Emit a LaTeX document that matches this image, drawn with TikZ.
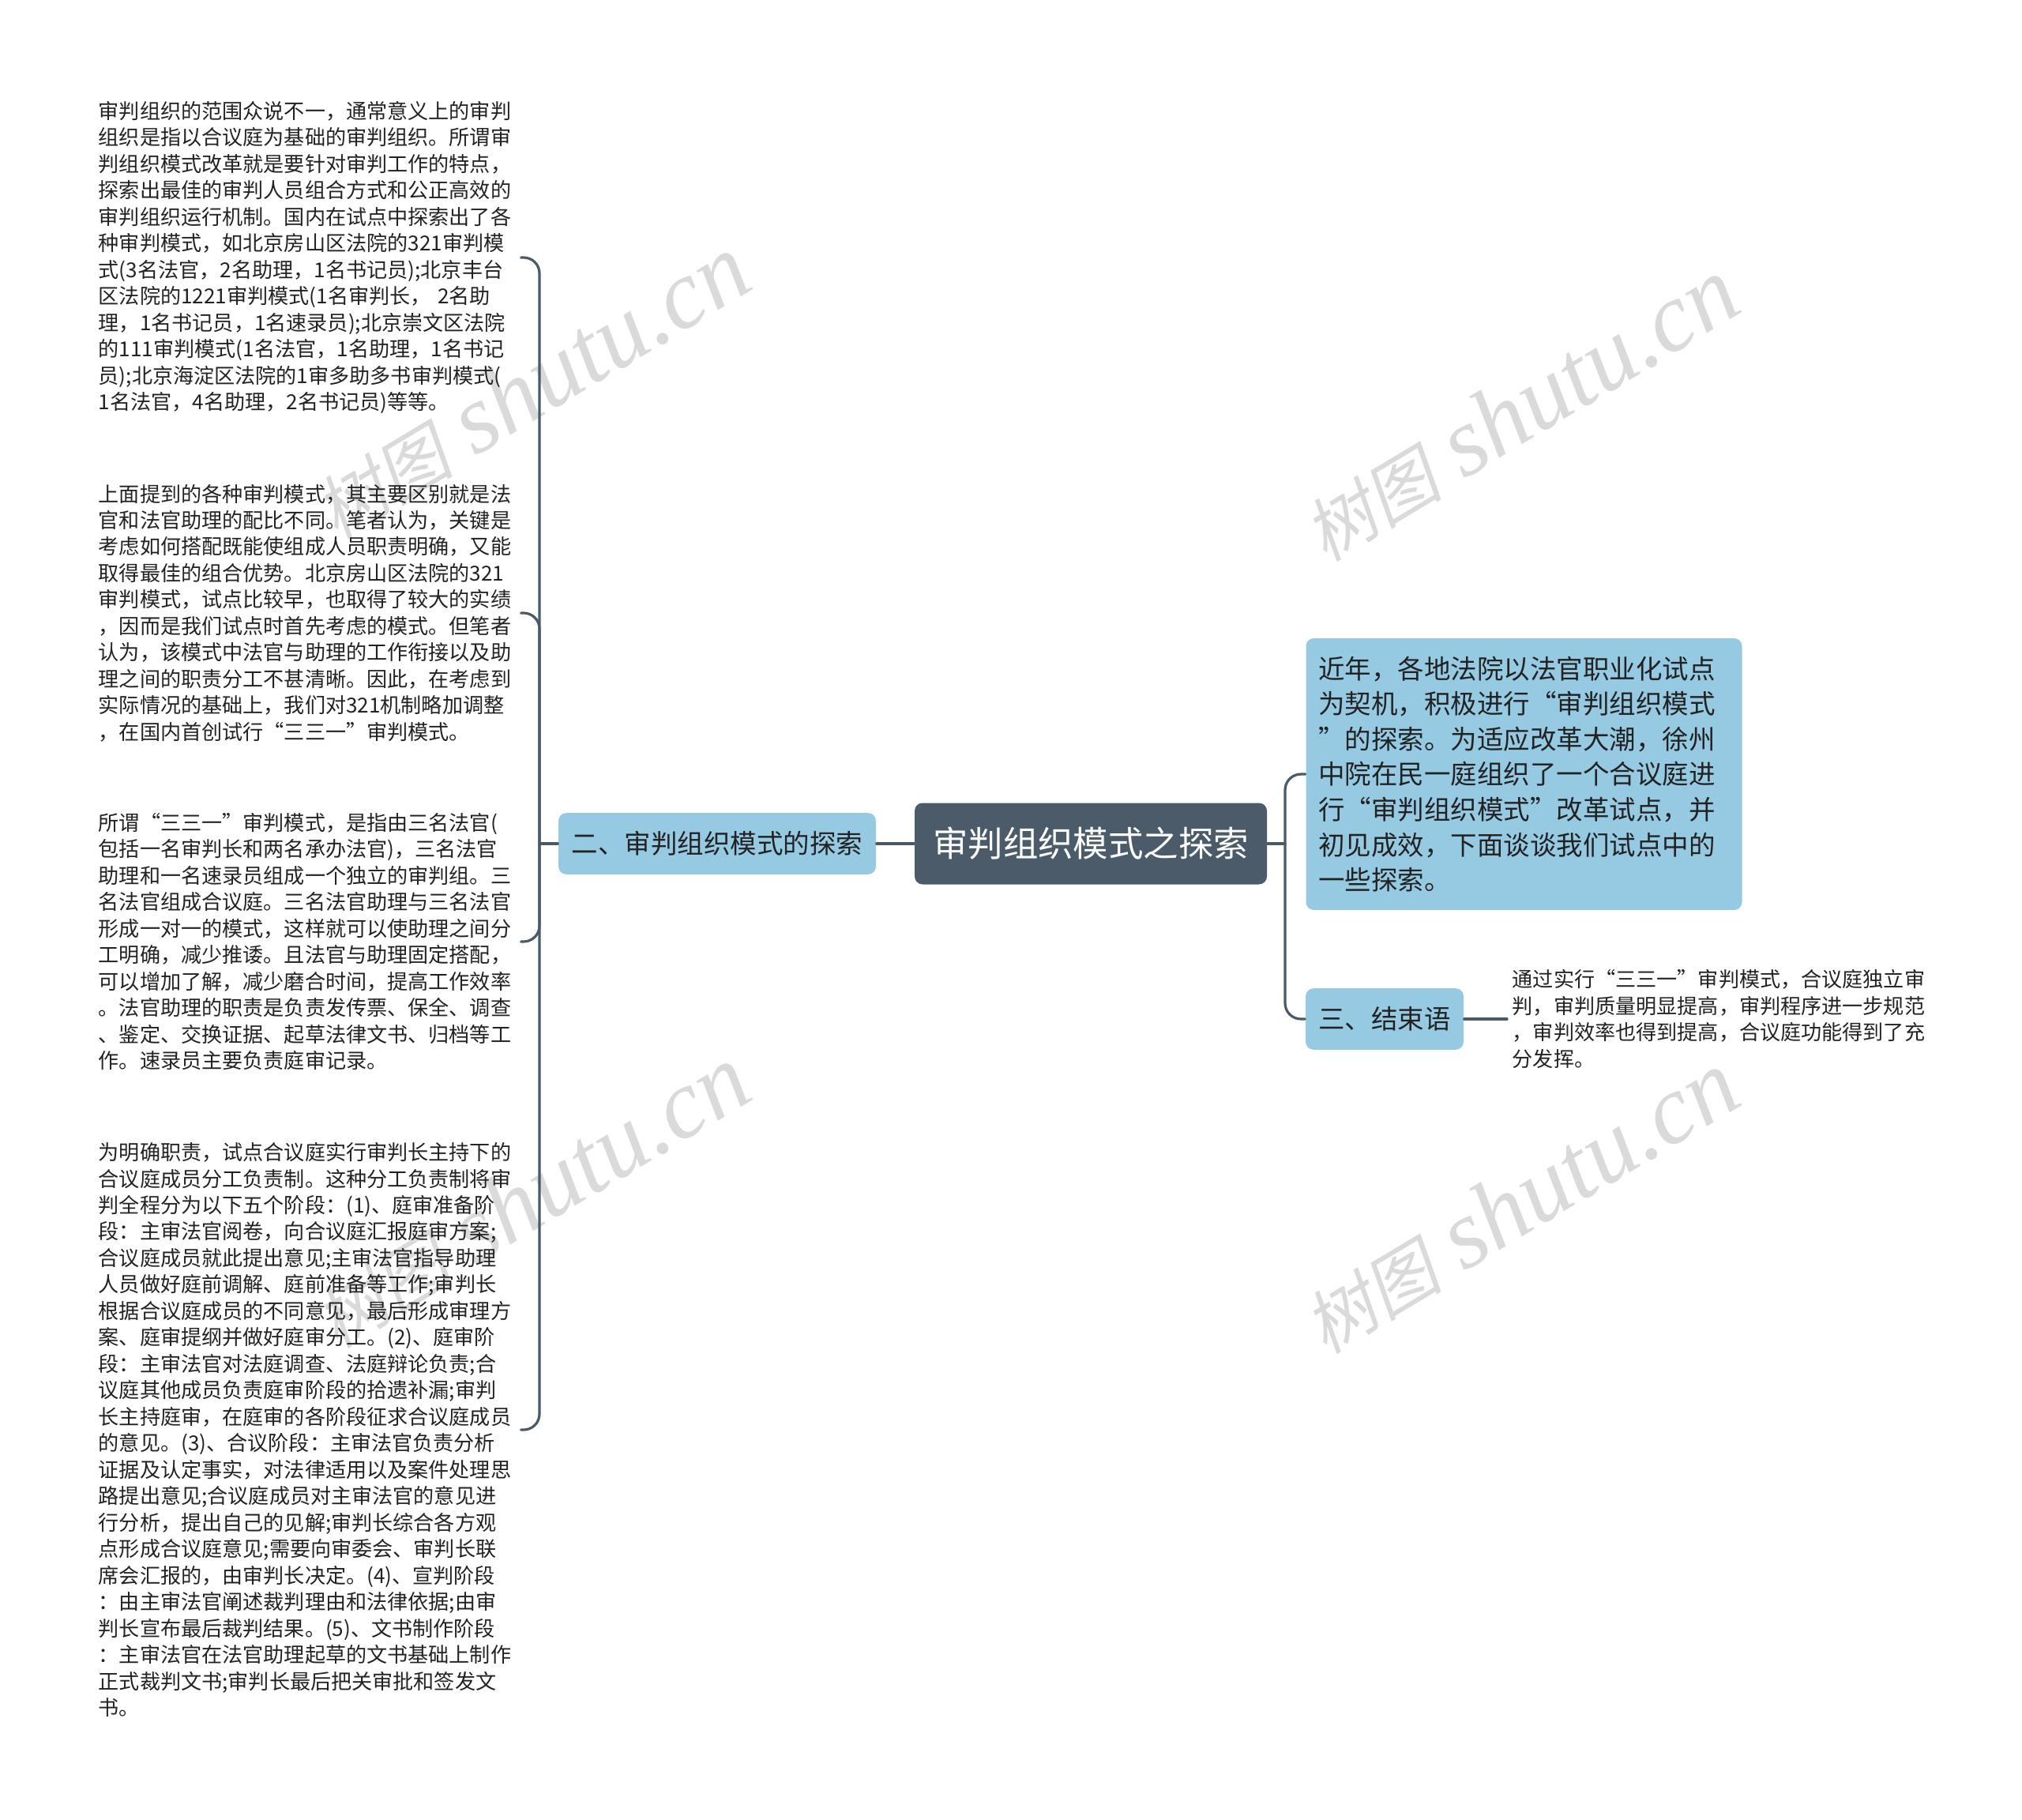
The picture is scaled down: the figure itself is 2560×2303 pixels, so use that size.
\documentclass[tikz,border=0pt]{standalone}
\usepackage{fontspec}
\setmainfont{Noto Sans CJK SC}
\newfontfamily\wmlatin{Liberation Serif}
\newfontfamily\wmcjk[FakeSlant=0.2]{Noto Sans CJK SC}
\definecolor{rootfill}{HTML}{4B5B6A}
\definecolor{subfill}{HTML}{96CAE2}
\definecolor{linkcol}{HTML}{4B5A68}
\definecolor{inkcol}{HTML}{222222}
\definecolor{wmcol}{HTML}{DADADA}
\begin{document}
\begin{tikzpicture}[x=0.25pt,y=-0.25pt,line join=round,line cap=round,
	link/.style={draw=linkcol,line width=0.8pt},
	hook/.style={link,rounded corners=5pt},
	roottopic/.style={fill=rootfill,rounded corners=2.5pt,text=white,font=\fontsize{11.1pt}{13pt}\selectfont,minimum width=111.5pt,minimum height=25.75pt,inner sep=0pt},
	subtopic/.style={fill=subfill,rounded corners=2.5pt,text=inkcol,font=\fontsize{8.37pt}{11.15pt}\selectfont,minimum height=19.4pt,inner sep=0pt},
	leaftext/.style={text=inkcol,font=\fontsize{6.53pt}{8.37pt}\selectfont,align=left,text width=132pt,inner xsep=1.5pt,inner ysep=0pt,anchor=west},
	watermark/.style={text=wmcol,rotate=31,font=\fontsize{31pt}{33pt}\selectfont}]
	\useasboundingbox (0,0) rectangle (2560,2303);
	
	% watermarks
	\node[watermark] (wm1) at (672,490) {{\wmcjk\fontsize{22pt}{24pt}\selectfont 树图} {\wmlatin\itshape shutu.cn}};
	\node[watermark] (wm2) at (1924,519) {{\wmcjk\fontsize{22pt}{24pt}\selectfont 树图} {\wmlatin\itshape shutu.cn}};
	\node[watermark] (wm3) at (672,1515) {{\wmcjk\fontsize{22pt}{24pt}\selectfont 树图} {\wmlatin\itshape shutu.cn}};
	\node[watermark] (wm4) at (1924,1522) {{\wmcjk\fontsize{22pt}{24pt}\selectfont 树图} {\wmlatin\itshape shutu.cn}};
	
	\node[roottopic] (root) at (1381,1068) {审判组织模式之探索};
	\node[subtopic,minimum width=100.5pt] (sec2) at (908,1068) {二、审判组织模式的探索};
	\node[subtopic,align=left,text width=130pt,inner xsep=4pt,minimum height=86pt] (intro) at (1929.5,980) {近年，各地法院以法官职业化试点\\为契机，积极进行“审判组织模式\\”的探索。为适应改革大潮，徐州\\中院在民一庭组织了一个合议庭进\\行“审判组织模式”改革试点，并\\初见成效，下面谈谈我们试点中的\\一些探索。};
	\node[subtopic,minimum width=50pt] (sec3) at (1753,1290) {三、结束语};
	
	\node[leaftext] (p1) at (118,326) {审判组织的范围众说不一，通常意义上的审判\\组织是指以合议庭为基础的审判组织。所谓审\\判组织模式改革就是要针对审判工作的特点，\\探索出最佳的审判人员组合方式和公正高效的\\审判组织运行机制。国内在试点中探索出了各\\种审判模式，如北京房山区法院的321审判模\\式(3名法官，2名助理，1名书记员);北京丰台\\区法院的1221审判模式(1名审判长， 2名助\\理，1名书记员，1名速录员);北京崇文区法院\\的111审判模式(1名法官，1名助理，1名书记\\员);北京海淀区法院的1审多助多书审判模式(\\1名法官，4名助理，2名书记员)等等。};
	\node[leaftext] (p2) at (118,776) {上面提到的各种审判模式，其主要区别就是法\\官和法官助理的配比不同。笔者认为，关键是\\考虑如何搭配既能使组成人员职责明确，又能\\取得最佳的组合优势。北京房山区法院的321\\审判模式，试点比较早，也取得了较大的实绩\\，因而是我们试点时首先考虑的模式。但笔者\\认为，该模式中法官与助理的工作衔接以及助\\理之间的职责分工不甚清晰。因此，在考虑到\\实际情况的基础上，我们对321机制略加调整\\，在国内首创试行“三三一”审判模式。};
	\node[leaftext] (p3) at (118,1192) {所谓“三三一”审判模式，是指由三名法官(\\包括一名审判长和两名承办法官)，三名法官\\助理和一名速录员组成一个独立的审判组。三\\名法官组成合议庭。三名法官助理与三名法官\\形成一对一的模式，这样就可以使助理之间分\\工明确，减少推诿。且法官与助理固定搭配，\\可以增加了解，减少磨合时间，提高工作效率\\。法官助理的职责是负责发传票、保全、调查\\、鉴定、交换证据、起草法律文书、归档等工\\作。速录员主要负责庭审记录。};
	\node[leaftext] (p4) at (118,1810) {为明确职责，试点合议庭实行审判长主持下的\\合议庭成员分工负责制。这种分工负责制将审\\判全程分为以下五个阶段：(1)、庭审准备阶\\段：主审法官阅卷，向合议庭汇报庭审方案;\\合议庭成员就此提出意见;主审法官指导助理\\人员做好庭前调解、庭前准备等工作;审判长\\根据合议庭成员的不同意见，最后形成审理方\\案、庭审提纲并做好庭审分工。(2)、庭审阶\\段：主审法官对法庭调查、法庭辩论负责;合\\议庭其他成员负责庭审阶段的拾遗补漏;审判\\长主持庭审，在庭审的各阶段征求合议庭成员\\的意见。(3)、合议阶段：主审法官负责分析\\证据及认定事实，对法律适用以及案件处理思\\路提出意见;合议庭成员对主审法官的意见进\\行分析，提出自己的见解;审判长综合各方观\\点形成合议庭意见;需要向审委会、审判长联\\席会汇报的，由审判长决定。(4)、宣判阶段\\：由主审法官阐述裁判理由和法律依据;由审\\判长宣布最后裁判结果。(5)、文书制作阶段\\：主审法官在法官助理起草的文书基础上制作\\正式裁判文书;审判长最后把关审批和签发文\\书。};
	\node[leaftext] (ending) at (1908,1290) {通过实行“三三一”审判模式，合议庭独立审\\判，审判质量明显提高，审判程序进一步规范\\，审判效率也得到提高，合议庭功能得到了充\\分发挥。};
	
	\coordinate (jl) at (683,1068);
	\coordinate (jr) at (1627,1068);
	
	\draw[link] (root.west) -- (sec2.east);
	\draw[link] (sec2.west) -- (jl);
	\foreach \b in {p1,p2,p3,p4}
		\draw[hook] (\b.east) -| (jl);
	\draw[link] (root.east) -- (jr);
	\draw[hook] (intro.west) -| (jr);
	\draw[hook] (sec3.west) -| (jr);
	\draw[link] (sec3.east) -- (ending.west);
\end{tikzpicture}
\end{document}
